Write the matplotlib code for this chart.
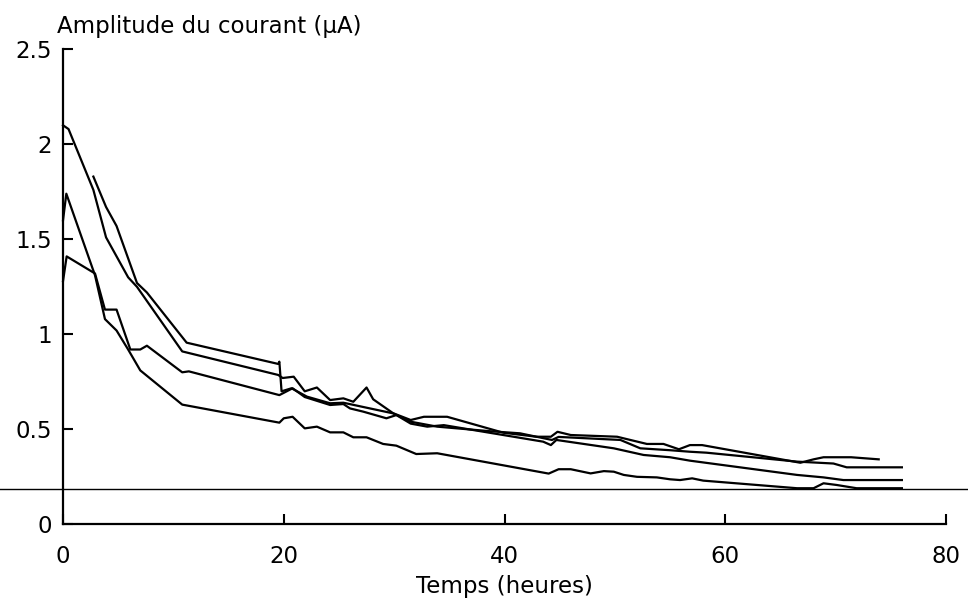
import matplotlib
matplotlib.use("Agg")
import matplotlib.pyplot as plt

plt.rcParams["font.family"] = ["DejaVu Sans"]

# four recordings, time in hours, amplitude in uA
x_a = [0, 0.5, 2.75, 3.9, 5.9, 6.7, 10.8, 19.5, 19.9, 20.9, 21.9, 23.0, 24.2, 25.4,
       26.3, 27.5, 28.1, 29.9, 31.5, 32.7, 34.8, 39.9, 42.9, 44.2, 44.8, 46.0, 50.2,
       51.4, 52.9, 54.4, 55.8, 56.8, 57.9, 66.8, 68.0, 68.9, 71.4, 73.9]
y_a = [2.10, 2.08, 1.76, 1.51, 1.30, 1.25, 0.91, 0.786, 0.77, 0.777, 0.70, 0.72, 0.654, 0.663,
       0.645, 0.72, 0.658, 0.585, 0.549, 0.566, 0.566, 0.482, 0.461, 0.461, 0.487, 0.47, 0.461,
       0.444, 0.423, 0.423, 0.395, 0.417, 0.417, 0.324, 0.342, 0.353, 0.353, 0.342]

x_b = [2.75, 3.9, 4.85, 6.7, 7.6, 11.2, 19.5, 19.6, 19.8, 20.7, 22.1, 24.2, 25.4, 27.0,
       29.9, 31.5, 33.9, 38.7, 41.4, 44.3, 44.9, 50.5, 52.3, 55.0, 56.8, 58.3, 66.5,
       69.8, 71.0, 76.0]
y_b = [1.83, 1.67, 1.57, 1.27, 1.22, 0.956, 0.844, 0.856, 0.70, 0.716, 0.672, 0.637, 0.64, 0.62,
       0.584, 0.54, 0.514, 0.49, 0.479, 0.444, 0.46, 0.444, 0.40, 0.39, 0.382, 0.377, 0.33,
       0.32, 0.30, 0.30]

x_c = [0, 0.33, 2.9, 3.8, 4.85, 6.1, 7.0, 7.6, 10.8, 11.4, 19.6, 20.8, 21.9, 24.2, 25.4,
       26.0, 27.2, 29.3, 30.2, 31.5, 33.0, 34.5, 43.5, 44.2, 44.7, 49.9, 52.6, 55.0, 56.8,
       66.5, 68.9, 70.7, 76.0]
y_c = [1.28, 1.41, 1.32, 1.13, 1.13, 0.92, 0.92, 0.94, 0.80, 0.805, 0.68, 0.716, 0.67, 0.628, 0.633,
       0.61, 0.593, 0.558, 0.575, 0.53, 0.514, 0.522, 0.435, 0.417, 0.444, 0.40, 0.365, 0.353, 0.335,
       0.26, 0.247, 0.233, 0.233]

x_d = [0, 0.3, 2.9, 3.8, 4.85, 5.9, 7.0, 10.8, 19.6, 20.0, 20.8, 21.9, 23.0, 24.2, 25.4,
       26.3, 27.5, 29.0, 30.2, 32.0, 33.9, 44.0, 44.9, 46.0, 47.8, 49.0, 49.9, 50.8, 52.0,
       53.8, 55.0, 55.9, 57.0, 58.0, 66.5, 68.0, 68.9, 70.1, 71.9, 76.0]
y_d = [1.60, 1.74, 1.31, 1.08, 1.02, 0.92, 0.81, 0.63, 0.535, 0.558, 0.566, 0.505, 0.514, 0.484, 0.484,
       0.458, 0.458, 0.423, 0.414, 0.37, 0.374, 0.267, 0.29, 0.29, 0.268, 0.28, 0.277, 0.26, 0.25,
       0.247, 0.237, 0.233, 0.242, 0.23, 0.19, 0.19, 0.216, 0.207, 0.19, 0.19]

baseline = 0.187
x_ticks = [0, 20, 40, 60, 80]
y_ticks = [0, 0.5, 1, 1.5, 2, 2.5]
y_ticklabels = ["0", "0.5", "1", "1.5", "2", "2.5"]

fig = plt.figure(figsize=(9.68, 5.98), dpi=100)
ax = fig.add_axes([0.0651, 0.1232, 0.9122, 0.7944])

for xs, ys in [(x_a, y_a), (x_b, y_b), (x_c, y_c), (x_d, y_d)]:
    ax.plot(xs, ys, color="black", lw=1.6, clip_on=False)

ax.axhline(baseline, xmin=-0.0714, xmax=1.03, color="black", lw=1.0, clip_on=False)

ax.set_xlim(0, 80)
ax.set_ylim(0, 2.5)
ax.set_xticks(x_ticks)
ax.set_yticks(y_ticks)
ax.set_yticklabels(y_ticklabels)
for s in ["top", "right"]:
    ax.spines[s].set_visible(False)
for s in ["left", "bottom"]:
    ax.spines[s].set_linewidth(1.6)
ax.tick_params(axis="both", direction="in", length=7, width=1.5, labelsize=16.5)
ax.tick_params(axis="x", pad=15)
ax.tick_params(axis="y", pad=8)

ax.set_xlabel("Temps (heures)", fontsize=16.5, labelpad=5)
fig.text(57 / 968, 1 - 33 / 598, "Amplitude du courant (µA)", fontsize=16.5,
         ha="left", va="baseline")

fig.savefig("out.png", dpi=100)
